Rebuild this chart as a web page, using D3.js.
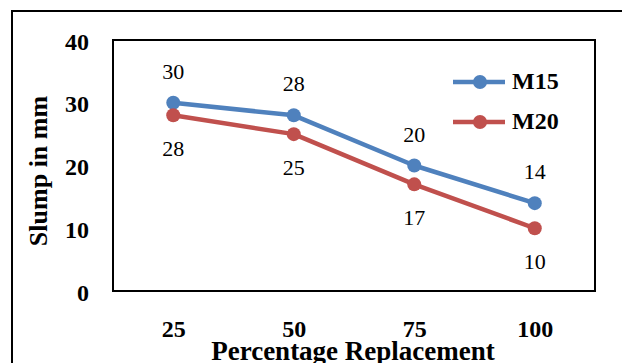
<!DOCTYPE html>
<html>
<head>
<meta charset="utf-8">
<script src="https://cdn.jsdelivr.net/npm/d3@7"></script>
<style>
  html, body { margin: 0; padding: 0; background: #fff; }
  svg { display: block; }
  svg text { font-family: "Liberation Serif", "Times New Roman", serif; fill: #000; }
</style>
</head>
<body>
<svg id="chart" width="622" height="363"></svg>
<script>
// Slump of concrete mixes against percentage replacement
const categories = ["25", "50", "75", "100"];
const m15 = [30, 28, 20, 14];
const m20 = [28, 25, 17, 10];
const yTicks = [0, 10, 20, 30, 40];
const seriesNames = ["M15", "M20"];
const seriesColors = ["#4F81BD", "#C0504D"];

const FONT = "'Liberation Serif', 'Times New Roman', serif";
const svg = d3.select("#chart");
const W = 622, H = 363;
const plot = { left: 113, top: 40, right: 595, bottom: 291 };

svg.append("rect").attr("width", W).attr("height", H).attr("fill", "#fff");

// outer frame (continues past the visible area on right and bottom)
svg.append("rect")
  .attr("x", 12).attr("y", 11).attr("width", 640).attr("height", 400)
  .attr("fill", "none").attr("stroke", "#000").attr("stroke-width", 2);

const x = d3.scalePoint().domain(categories).range([plot.left, plot.right]).padding(0.5);
const y = d3.scaleLinear().domain([0, 40]).range([plot.bottom, plot.top]);

// plot area frame
svg.append("rect")
  .attr("x", plot.left).attr("y", plot.top)
  .attr("width", plot.right - plot.left).attr("height", plot.bottom - plot.top)
  .attr("fill", "none").attr("stroke", "#000").attr("stroke-width", 2);

// y axis labels
const yAxis = d3.axisLeft(y).tickValues(yTicks).tickSize(0).tickPadding(24);
const gy = svg.append("g").attr("transform", `translate(${plot.left},0)`).call(yAxis);
gy.attr("font-family", FONT);
gy.select(".domain").remove();
gy.selectAll("text")
  .style("font-family", FONT)
  .attr("dy", "0.38em")
  .attr("font-size", 24).attr("font-weight", "bold").attr("fill", "#000");

// x axis labels
const xAxis = d3.axisBottom(x).tickSize(0).tickPadding(29);
const gx = svg.append("g").attr("transform", `translate(0,${plot.bottom})`).call(xAxis);
gx.attr("font-family", FONT);
gx.select(".domain").remove();
gx.selectAll("text")
  .style("font-family", FONT)
  .attr("dy", 0).attr("y", 46)
  .attr("font-size", 24).attr("font-weight", "bold").attr("fill", "#000");

// axis titles
svg.append("text")
  .attr("x", 353).attr("y", 360)
  .attr("text-anchor", "middle")
  .style("font-family", FONT)
  .attr("font-size", 27).attr("font-weight", "bold")
  .text("Percentage Replacement");

svg.append("text")
  .attr("transform", "translate(47,171) rotate(-90)")
  .attr("text-anchor", "middle")
  .style("font-family", FONT)
  .attr("font-size", 26).attr("font-weight", "bold")
  .text("Slump in mm");

const line = d3.line().x((d, i) => x(categories[i])).y(d => y(d));
const series = [m15, m20];

series.forEach((vals, s) => {
  svg.append("path")
    .datum(vals)
    .attr("d", line)
    .attr("fill", "none")
    .attr("stroke", seriesColors[s])
    .attr("stroke-width", 4.5)
    .attr("stroke-linejoin", "round");
  svg.selectAll(null)
    .data(vals)
    .enter().append("circle")
    .attr("cx", (d, i) => x(categories[i]))
    .attr("cy", d => y(d))
    .attr("r", 7)
    .attr("fill", seriesColors[s]);
});

// value labels: M15 above its points, M20 below
svg.selectAll(null)
  .data(m15)
  .enter().append("text")
  .attr("x", (d, i) => x(categories[i]))
  .attr("y", d => y(d) - 24)
  .attr("text-anchor", "middle")
  .style("font-family", FONT)
  .attr("font-size", 22)
  .text(d => d);

svg.selectAll(null)
  .data(m20)
  .enter().append("text")
  .attr("x", (d, i) => x(categories[i]))
  .attr("y", d => y(d) + 41)
  .attr("text-anchor", "middle")
  .style("font-family", FONT)
  .attr("font-size", 22)
  .text(d => d);

// legend
const legendY = [82, 122];
seriesNames.forEach((name, s) => {
  const g = svg.append("g");
  g.append("line")
    .attr("x1", 453).attr("x2", 505)
    .attr("y1", legendY[s]).attr("y2", legendY[s])
    .attr("stroke", seriesColors[s]).attr("stroke-width", 4.5);
  g.append("circle")
    .attr("cx", 480).attr("cy", legendY[s]).attr("r", 7)
    .attr("fill", seriesColors[s]);
  g.append("text")
    .attr("x", 512).attr("y", legendY[s] + 7)
    .style("font-family", FONT)
    .attr("font-size", 24).attr("font-weight", "bold")
    .text(name);
});
</script>
</body>
</html>
